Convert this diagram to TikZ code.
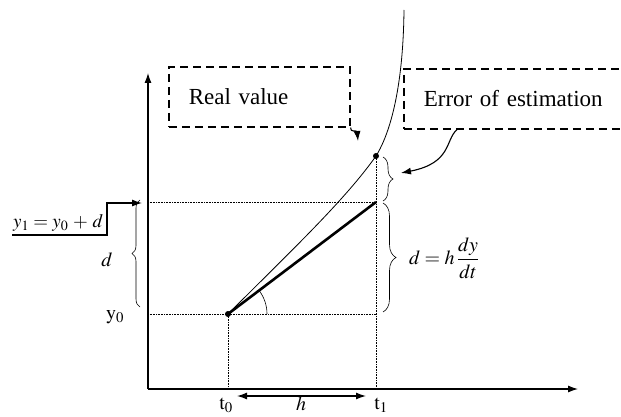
\documentclass[tikz,border=0pt]{standalone}
\usepackage{amsmath}
\usepackage{mathptmx}
\usepackage[no-math]{fontspec}
\setmainfont{Liberation Serif}
\usetikzlibrary{arrows.meta,positioning,decorations.pathreplacing,angles}

\begin{document}
\begin{tikzpicture}[x=1pt,y=-1pt,>={Latex[length=10pt,width=7pt]}]
    \tikzset{guide/.style={densely dotted,line width=.6pt},
      axis/.style={->,line width=1.1pt},
      callout/.style={draw,dash pattern=on 8pt off 5pt,line width=1.6pt,minimum height=60pt,inner xsep=20pt,align=left,font=\fontsize{23}{26}\selectfont},
      curly/.style={decorate,decoration={brace,amplitude=#1},line width=.6pt},
      lbl/.style={inner sep=0pt,font=\fontsize{20}{22}\selectfont},
      dot/.style={circle,fill,inner sep=0pt,minimum size=6pt}}
    \useasboundingbox (0,0) rectangle (621,417);
    \clip (0,0) rectangle (621,417);
    % axes
    \coordinate (origin) at (148,389);
    \draw[axis] (origin) -- (148,73);
    \draw[axis] (origin) -- (578,389);
    % points
    \coordinate (p0) at (228,314);
    \coordinate (p1) at (376,202);
    \coordinate (q1) at (376,156);
    \coordinate (p0r) at (376,314);
    \coordinate (top) at (404,10);
    \draw[guide] (origin |- p0) -- (p0r);
    \draw[guide] (origin |- p1) -- (p1);
    \draw[guide] (p0) -- (p0 |- origin);
    \draw[guide] (q1) -- (q1 |- origin);
    \draw[line width=.8pt] (p0) .. controls (290,252) and (345,200) .. (q1) .. controls (386,140) and (403,100) .. (top);
    \draw[line width=2.6pt] (p0) -- (p1);
    \pic[draw,line width=.6pt,angle radius=39pt] {angle=p0r--p0--p1};
    \node[dot] (d0) at (p0) {};
    \node[dot] (d1) at (q1) {};
    % braces
    \draw[curly=8pt] (140,307) -- (140,200);
    \draw[curly=13pt] (383,203) -- (383,312);
    \draw[curly=10pt] (383,157) -- (383,201);
    \node[lbl] (dl) at (107,260) {$d$};
    \node[lbl,anchor=west] (dr) at (409,258) {$d = h\,\dfrac{dy}{dt}$};
    \node[lbl] (y0) at (115,317) {$\mathrm{y}_0$};
    % time axis labels
    \node[lbl,anchor=base] (t0) at (226,409) {$\mathrm{t}_0$};
    \node[lbl,anchor=base] (h) at (301,410) {$h$};
    \node[lbl,anchor=base] (t1) at (381,409) {$\mathrm{t}_1$};
    \draw[{Latex[length=10pt,width=7pt]}-{Latex[length=10pt,width=7pt]},line width=1.3pt] (237,396) -- (366,396);
    % y1 callout
    \node[lbl,anchor=south west,inner sep=1pt,font=\fontsize{19}{21}\selectfont] (y1) at (12,233) {$y_1 = y_0 \mkern2mu+\mkern2mu d$};
    \draw[->,line width=1.2pt] (12,235) -- (107,235) -- (107,203) -- (142,203);
    % dashed boxes
    \node[callout,minimum width=181pt,text width=141pt,anchor=north west] (real) at (168,66) {Real value};
    \node[callout,minimum width=240pt,text width=200pt,anchor=north west] (err) at (403,68) {Error of estimation};
    \coordinate (realtip) at (358,141);
    \coordinate (errtip) at (401,173);
    \draw[->,line width=1.1pt] (real.south east) .. controls (350,133) and (357,130) .. (realtip);
    \draw[->,line width=1.1pt] ([xshift=54pt]err.south west) .. controls (445,140) and (452,163) .. (errtip);
\end{tikzpicture}
\end{document}
